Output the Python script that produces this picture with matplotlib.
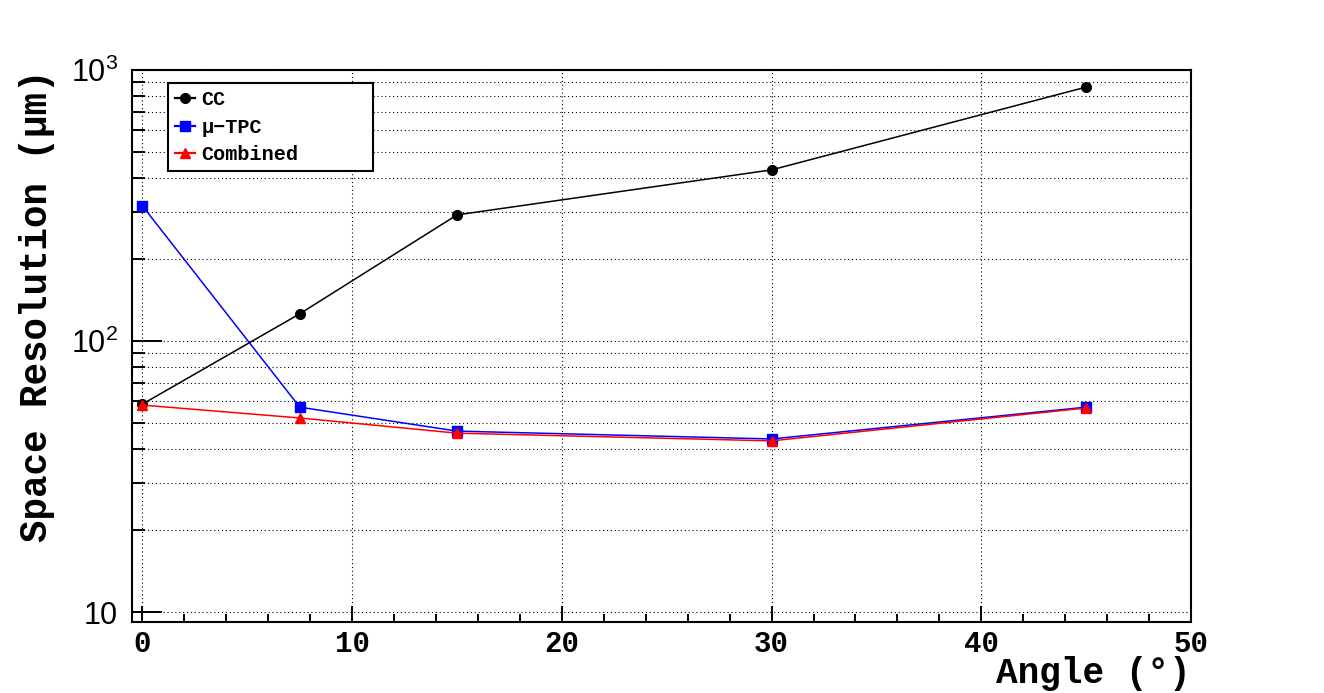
import matplotlib.pyplot as plt
from matplotlib.ticker import FixedLocator, NullFormatter, LogLocator

# data
angles = [0, 7.5, 15, 30, 45]
cc = [58.5, 126, 292, 428, 865]
mutpc = [315, 57, 46.5, 43.5, 57]
combined = [58, 52, 45.7, 42.8, 56.6]

mono = "Liberation Mono"
sans = "Liberation Sans"
plt.rcParams['mathtext.default'] = 'regular'

fig = plt.figure(figsize=(13.24, 6.93), dpi=100)
ax = fig.add_axes([132 / 1324, 1 - 622 / 693, (1191 - 132) / 1324, (622 - 70) / 693])

ax.set_yscale('log')
ax.set_xlim(-0.5, 50)
ax.set_ylim(10 ** (1 - 10 / 271), 1000)

ax.plot(angles, cc, color='black', lw=1.1, marker='o', ms=7, label='CC', zorder=3)
ax.plot(angles, mutpc, color='blue', lw=1.1, marker='s', ms=7, label='\u03bc\u2212TPC', zorder=3)
ax.plot(angles, combined, color='red', lw=1.1, marker='^', ms=7, label='Combined', zorder=4)

# ticks
ax.xaxis.set_major_locator(FixedLocator([0, 10, 20, 30, 40, 50]))
ax.xaxis.set_minor_locator(FixedLocator([x for x in range(2, 50, 2) if x % 10]))
ax.yaxis.set_major_locator(FixedLocator([10, 100, 1000]))
ax.yaxis.set_minor_locator(LogLocator(base=10, subs=range(2, 10)))
ax.yaxis.set_minor_formatter(NullFormatter())
ax.set_yticklabels(['10', '$10^{2}$', '$10^{3}$'], fontfamily=sans, fontsize=22)
ax.set_xticklabels(['0', '10', '20', '30', '40', '50'], fontfamily=mono, fontweight='bold', fontsize=21)

ax.tick_params(axis='x', which='major', direction='in', length=11.5, width=1.4, pad=6)
ax.tick_params(axis='x', which='minor', direction='in', length=5.8, width=1.4)
ax.tick_params(axis='y', which='major', direction='in', length=21.5, width=1.4, pad=10)
ax.tick_params(axis='y', which='minor', direction='in', length=9.4, width=1.4)

ax.grid(True, which='major', axis='x', color='black', lw=0.8, ls=(0, (1, 2.5)))
ax.grid(True, which='both', axis='y', color='black', lw=0.8, ls=(0, (1, 2.5)))

for s in ax.spines.values():
    s.set_linewidth(1.5)

ax.set_xlabel('Angle (\u00b0)', fontfamily=mono, fontweight='bold', fontsize=26)
ax.xaxis.set_label_coords(1.0, -0.093)
ax.xaxis.label.set_ha('right')
ax.xaxis.label.set_va('center')
ax.set_ylabel('Space Resolution (\u03bcm)', fontfamily=mono, fontweight='bold', fontsize=27)
ax.yaxis.set_label_coords(-0.09, 1.0)
ax.yaxis.label.set_va('center')
ax.yaxis.label.set_ha('right')

leg = ax.legend(loc='upper left', bbox_to_anchor=(0.034, 0.0, 0.1936, 0.976), mode='expand',
                borderaxespad=0, prop={'family': mono, 'weight': 'bold', 'size': 14.5},
                handlelength=1.0, handletextpad=0.3, fancybox=False, framealpha=1,
                edgecolor='black', borderpad=0.35, labelspacing=0.42, markerscale=1.0)
leg.get_frame().set_linewidth(1.5)
for h in leg.legend_handles:
    h.set_linewidth(1.6)

fig.savefig('out.png', dpi=100)
